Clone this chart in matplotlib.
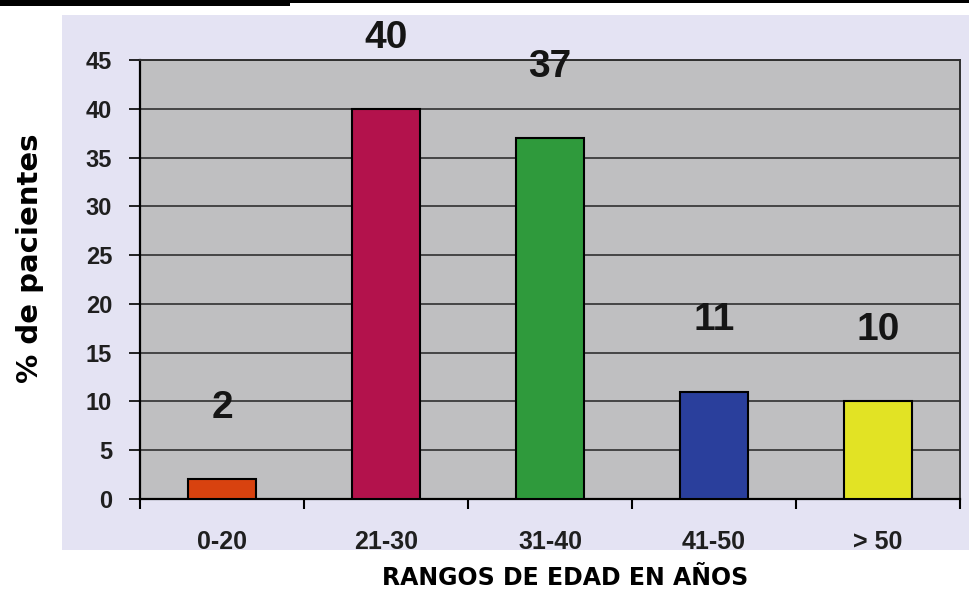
import matplotlib
matplotlib.use("Agg")
import matplotlib.pyplot as plt
from matplotlib.patches import Rectangle

# datos
rangos = ['0-20', '21-30', '31-40', '41-50', '> 50']
porcentajes = [2, 40, 37, 11, 10]
colores = ['#d8420f', '#b3124c', '#2f9a3c', '#2a3f9c', '#e2e324']

fig = plt.figure(figsize=(9.7, 5.9), dpi=100)
fig.patch.set_facecolor('white')

# fondo lila del escaneo y barra negra arriba
fig.add_artist(Rectangle((62/970, 1-550/590), 908/970, 535/590,
                         transform=fig.transFigure, facecolor='#e4e3f3',
                         edgecolor='none', zorder=-5))
fig.add_artist(Rectangle((0, 1-6/590), 290/970, 6/590,
                         transform=fig.transFigure, facecolor='black',
                         edgecolor='none', zorder=-5))
fig.add_artist(Rectangle((0, 1-3/590), 1, 3/590,
                         transform=fig.transFigure, facecolor='black',
                         edgecolor='none', zorder=-5))

ax = fig.add_axes([140/970, 1-499/590, 820/970, 439/590])
ax.set_zorder(2)
ax.set_facecolor('#bfbfc1')

x = list(range(len(rangos)))
ax.bar(x, porcentajes, width=0.42, color=colores, edgecolor='black',
       linewidth=1.5, zorder=3)

for xi, v in zip(x, porcentajes):
    ax.text(xi, v + 7.3, str(v), ha='center', va='center', fontsize=28,
            fontweight='bold', family=['Liberation Sans Narrow', 'Liberation Sans'],
            color='#151515', clip_on=False)

ax.set_xlim(-0.5, len(rangos) - 0.5)
ax.set_ylim(0, 45)
ax.set_yticks(range(0, 50, 5))
ax.yaxis.grid(True, color='#303030', linewidth=1.2, zorder=1)
ax.set_axisbelow(True)

ax.set_xticks(x)
ax.set_xticklabels(rangos)
ax.set_xticks([i + 0.5 for i in range(-1, len(rangos))], minor=True)
ax.tick_params(axis='x', which='major', length=0, pad=22, labelsize=18,
               labelcolor='#1f1f1f')
ax.tick_params(axis='x', which='minor', length=7, width=1.5, direction='out')
ax.tick_params(axis='y', length=8, width=1.2, pad=12, labelsize=17,
               labelcolor='#1f1f1f')
for lbl in ax.get_xticklabels() + ax.get_yticklabels():
    lbl.set_family('Liberation Sans')
    lbl.set_fontweight('bold')

for s in ['left', 'bottom']:
    ax.spines[s].set_color('black')
    ax.spines[s].set_linewidth(1.6)
for s in ['top', 'right']:
    ax.spines[s].set_color('#303030')
    ax.spines[s].set_linewidth(1.4)

fig.text(30/970, 1-258/590, '% de pacientes', rotation=90, ha='center',
         va='center', fontsize=21, fontweight='heavy', family='DejaVu Sans')
fig.text(565/970, 1-578/590, 'RANGOS DE EDAD EN AÑOS', ha='center',
         va='center', fontsize=17, fontweight='heavy', family='DejaVu Sans')

fig.savefig('out.png', dpi=100, facecolor=fig.get_facecolor())
